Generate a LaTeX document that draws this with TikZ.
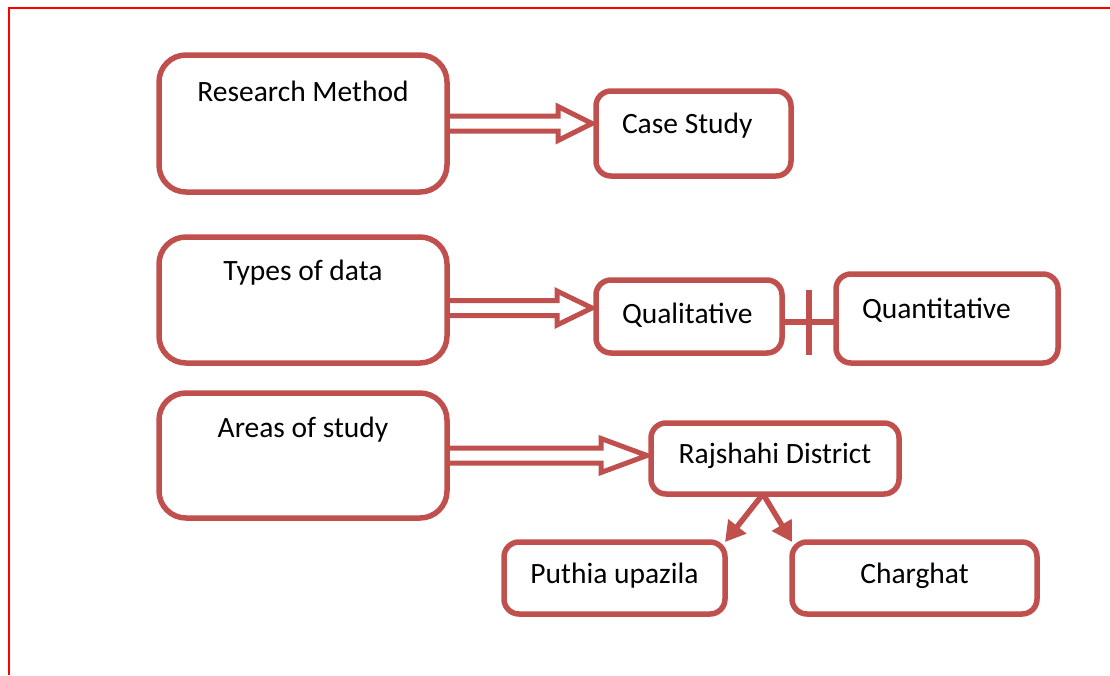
\documentclass[tikz,border=0pt]{standalone}
\usepackage{fontspec}
\setmainfont{Carlito}
\usetikzlibrary{positioning,calc,arrows.meta}

\definecolor{boxred}{HTML}{C0504D}

\newcommand{\hollowarrow}[3]{%
  \draw[dline] let \p1 = #1, \p2 = (#2.west) in
    (\x1,\y1+7.5pt) -- (\x2-#3,\y1+7.5pt) -- (\x2-#3,\y1+17pt) -- (\x2-4pt,\y1)
    -- (\x2-#3,\y1-17pt) -- (\x2-#3,\y1-7.5pt) -- (\x1,\y1-7.5pt);}

\begin{document}
\begin{tikzpicture}[x=1pt, y=-1pt]
    \tikzset{
        box/.style = {rectangle, draw=boxred, line width=5.5pt, rounded corners=15pt, inner xsep=26pt, inner ysep=0pt, outer sep=0pt, align=flush left, font=\fontsize{29.5}{35}\selectfont},
        bigbox/.style = {box, rounded corners=27pt, inner xsep=0pt, minimum width=288pt},
        midbox/.style = {box, inner xsep=0pt},
        line/.style = {draw=boxred, line width=5.5pt},
        dline/.style = {draw=boxred, line width=5pt, line join=miter},
        frame/.style = {draw=red, line width=2pt},
    }
    \useasboundingbox (0,0) rectangle (1110,675);

    \draw[frame] (1110,7.5) -- (8.5,7.5) -- (8.5,675);

    \node[bigbox, text height=46pt, text depth=91pt](research) at (303,123.5){Research Method};

    \node[bigbox, text height=43pt, text depth=83pt](types)[below = 45pt of research]{Types of data};

    \node[bigbox, text height=44pt, text depth=81pt](areas)[below = 30pt of types]{Areas of study};

    \node[box, text width=143pt, text height=42pt, text depth=43pt](casestudy)[right = 149pt of research, yshift=-10pt]{Case Study};

    \node[box, text width=134pt, text height=43pt, text depth=30pt](qualitative)[right = 149pt of types, yshift=-16.5pt]{Qualitative};

    \node[box, text width=170pt, text height=44pt, text depth=45pt](quantitative)[right = 54pt of qualitative, yshift=-2pt]{Quantitative};

    \node[midbox, minimum width=248pt, text height=40pt, text depth=31pt](rajshahi)[right = 204pt of areas, yshift=-3pt]{Rajshahi District};

    \node[midbox, minimum width=221pt, text height=41pt, text depth=31pt](puthia)[below = 48pt of rajshahi, xshift=-160.5pt]{Puthia upazila};

    \node[midbox, minimum width=245pt, text height=41pt, text depth=31pt](charghat)[below = 48pt of rajshahi, xshift=139.5pt]{Charghat};

    \hollowarrow{(research.east)}{casestudy}{38pt}
    \hollowarrow{([yshift=-8pt]types.east)}{qualitative}{39pt}
    \hollowarrow{(areas.east)}{rajshahi}{50pt}

    \draw[line] ([yshift=-5.5pt]qualitative.east) -- coordinate (qbar) ([yshift=-3.5pt]quantitative.west);
    \draw[line] ([yshift=32.5pt]qbar) -- ([yshift=-32.5pt]qbar);

    \path [line, -{Triangle[length=20pt, width=22pt]}] ([xshift=-12pt]rajshahi.south) -- (puthia.north east);
    \path [line, -{Triangle[length=20pt, width=22pt]}] ([xshift=-12pt]rajshahi.south) -- (charghat.north west);

\end{tikzpicture}
\end{document}
